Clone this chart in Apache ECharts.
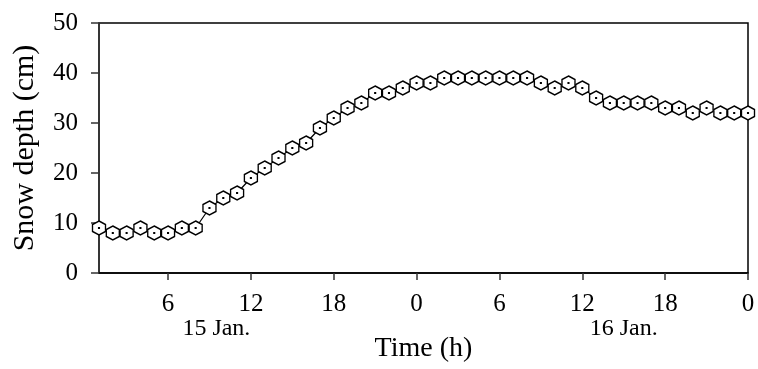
<!DOCTYPE html>
<html>
<head>
<meta charset="utf-8">
<script src="https://cdn.jsdelivr.net/npm/echarts@6/dist/echarts.min.js"></script>
<style>html,body{margin:0;padding:0;background:#fff;}#c{width:758px;height:369px;}</style>
</head>
<body>
<div id="c"></div>
<script>
const hours = [1,2,3,4,5,6,7,8,9,10,11,12,13,14,15,16,17,18,19,20,21,22,23,24,25,26,27,28,29,30,31,32,33,34,35,36,37,38,39,40,41,42,43,44,45,46,47,48];
const snowDepth = [9,8,8,9,8,8,9,9,13,15,16,19,21,23,25,26,29,31,33,34,36,36,37,38,38,39,39,39,39,39,39,39,38,37,38,37,35,34,34,34,34,33,33,32,33,32,32,32];
const xTickValues = [6,12,18,24,30,36,42,48];
const dateLabelPos = [9.5,39];
const dateLabels = ['15 Jan.','16 Jan.'];
const yTicks = [0,10,20,30,40,50];

const font = 'Liberation Serif, Times New Roman, serif';
const hex = 'path://M0,-1 L0.866,-0.5 L0.866,0.5 L0,1 L-0.866,0.5 L-0.866,-0.5 Z M-0.05,-0.05 L0.05,-0.05 L0.05,0.05 L-0.05,0.05 Z';

const chart = echarts.init(document.getElementById('c'), null, {renderer:'canvas'});
chart.setOption({
  animation:false,
  backgroundColor:'#fff',
  grid:{left:99,right:10,top:23,bottom:96,show:true,borderColor:'#000',borderWidth:1.5,backgroundColor:'transparent'},
  xAxis:[{
    type:'value',min:hours[0],max:hours[hours.length-1],
    name:'Time (h)',nameLocation:'middle',nameGap:62,
    nameTextStyle:{fontFamily:font,fontSize:28,color:'#000'},
    axisLine:{show:true,onZero:false,lineStyle:{color:'#000',width:1.5}},
    axisTick:{show:true,customValues:xTickValues,length:7,lineStyle:{color:'#333',width:1.5}},
    axisLabel:{customValues:xTickValues,formatter:v=>String(v%24),margin:19,fontFamily:font,fontSize:25,color:'#000'},
    splitLine:{show:false}
  },{
    type:'value',min:hours[0],max:hours[hours.length-1],position:'bottom',
    axisLine:{show:false},axisTick:{show:false},splitLine:{show:false},
    axisLabel:{customValues:dateLabelPos,formatter:v=>dateLabels[dateLabelPos.indexOf(v)],margin:44,fontFamily:font,fontSize:24,color:'#000'}
  }],
  yAxis:{
    type:'value',min:yTicks[0],max:yTicks[yTicks.length-1],interval:10,
    name:'Snow depth (cm)',nameLocation:'middle',nameGap:59,
    nameTextStyle:{fontFamily:font,fontSize:30,color:'#000'},
    axisLine:{show:true,lineStyle:{color:'#333',width:1.5}},
    axisTick:{show:true,length:8,lineStyle:{color:'#333',width:1.5}},
    axisLabel:{margin:21,fontFamily:font,fontSize:25,color:'#000'},
    splitLine:{show:false}
  },
  series:[{
    type:'line',xAxisIndex:0,
    data:hours.map((h,i)=>[h,snowDepth[i]]),
    symbol:hex,symbolSize:[13,14],showAllSymbol:true,clip:false,
    lineStyle:{color:'#000',width:1.2},
    itemStyle:{color:'#fff',borderColor:'#000',borderWidth:1.4},
    z:3
  }]
});
</script>
</body>
</html>
